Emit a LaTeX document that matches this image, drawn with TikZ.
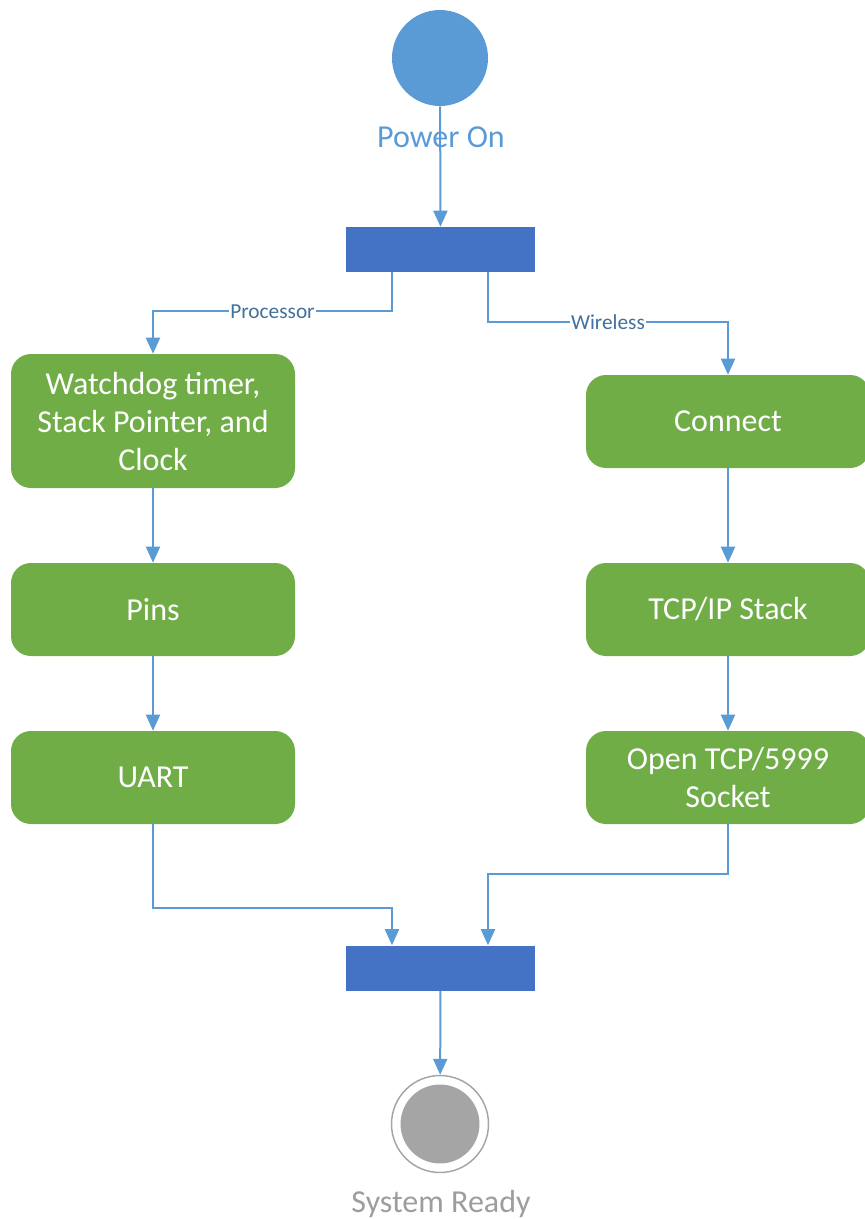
\documentclass[tikz,border=0pt]{standalone}
\usepackage{fontspec}
\setmainfont{Carlito}
\usetikzlibrary{arrows.meta}
\definecolor{startblue}{HTML}{5B9BD5}
\definecolor{barblue}{HTML}{4472C4}
\definecolor{stepgreen}{HTML}{70AD47}
\definecolor{endgray}{HTML}{A5A5A5}
\definecolor{labelblue}{HTML}{41719C}
\begin{document}
\begin{tikzpicture}[x=0.75pt,y=-0.75pt,>={Triangle[length=12pt,width=10.5pt]},
    flow/.style={draw=startblue,line width=1.5pt,->},
    act/.style={fill=stepgreen,rounded corners=15pt,minimum width=213pt,minimum height=69.75pt,
        text=white,font=\fontsize{24}{28.5}\selectfont,align=center,inner sep=0pt},
    bar/.style={fill=barblue,minimum width=141.75pt,minimum height=33.75pt,inner sep=0pt},
    lbl/.style={fill=white,text=labelblue,font=\fontsize{16}{18}\selectfont,inner sep=1pt},
    title/.style={font=\fontsize{24}{28.5}\selectfont}]
    \useasboundingbox (0,0) rectangle (864,1219);
    % Start, fork
    \node[circle,fill=startblue,minimum size=72pt,inner sep=0pt] (start) at (440,58) {};
    \node[bar] (fork) at (440.5,249.5) {};
    % Processor branch
    \node[act,minimum height=100.5pt] (watchdog) at (153,421) {Watchdog timer,\\Stack Pointer, and\\Clock};
    \node[act] (pins) at (153,609.5) {Pins};
    \node[act] (uart) at (153,777.5) {UART};
    % Wireless branch
    \node[act] (connect) at (728,421.5) {Connect};
    \node[act] (tcpip) at (728,609.5) {TCP/IP Stack};
    \node[act] (opensock) at (728,777.5) {Open TCP/5999\\Socket};
    % Join, end
    \node[bar] (join) at (440.5,968) {};
    \node[circle,draw=endgray,line width=1.1pt,minimum size=72.75pt,inner sep=0pt,
        path picture={\fill[endgray] (path picture bounding box.center) circle (29.6pt);}] (finish) at (440,1124) {};
    % Arrows
    \draw[flow] (start) -- (fork);
    \node[title,text=startblue] (powerlbl) at (441,137) {Power On};
    \draw[flow] ([xshift=-36.4pt]fork.south) -- ++(0,39) -| (watchdog.north)
        node[pos=0.25,lbl] (proclbl) {Processor};
    \draw[flow] ([xshift=35.6pt]fork.south) -- ++(0,50) -| (connect.north)
        node[pos=0.25,lbl] (wirelbl) {Wireless};
    \draw[flow] (watchdog) -- (pins);
    \draw[flow] (pins) -- (uart);
    \draw[flow] (connect) -- (tcpip);
    \draw[flow] (tcpip) -- (opensock);
    \draw[flow] (uart.south) -- ++(0,84) -| ([xshift=-36.4pt]join.north);
    \draw[flow] (opensock.south) -- ++(0,50) -| ([xshift=35.6pt]join.north);
    \draw[flow] (join) -- (finish);
    \node[title,text=endgray!95!black] (readylbl) at (441,1204) {System Ready};
\end{tikzpicture}
\end{document}
